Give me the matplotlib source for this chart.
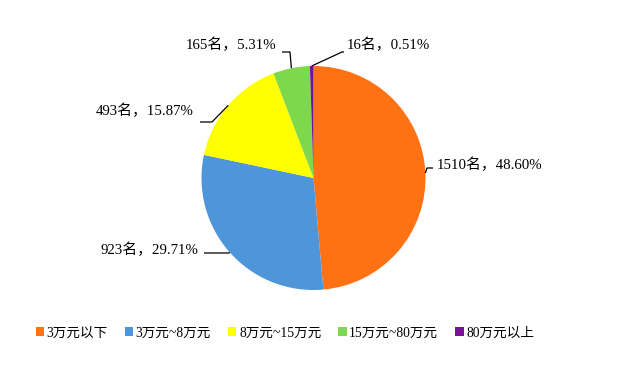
import numpy as np
import matplotlib
matplotlib.use("Agg")
import matplotlib.pyplot as plt

plt.rcParams['font.family'] = ['Liberation Serif', 'Noto Sans CJK SC']

categories = ["3万元以下", "3万元~8万元", "8万元~15万元", "15万元~80万元", "80万元以上"]
counts = [1510, 923, 493, 165, 16]
percents = [48.60, 29.71, 15.87, 5.31, 0.51]
colors = ["#FF7214", "#4F95DA", "#FFFF00", "#7ED84C", "#7A1099"]

W, H = 624, 365
fig = plt.figure(figsize=(W / 100, H / 100), dpi=100)
ax = fig.add_axes([0, 0, 1, 1])

cx, cy, r = 313.5, H - 178, 112
wedges, _ = ax.pie(percents, colors=colors, startangle=90, counterclock=False,
                   center=(cx, cy), radius=r, frame=True,
                   wedgeprops=dict(linewidth=0))
ax.set_xlim(0, W)
ax.set_ylim(0, H)
ax.set_aspect('equal')
ax.axis('off')

# label layout: (elbow point, line end, text pos, ha) in pixel coords from top
layout = [
    ((427, 168), (433, 168), (437, 165), 'left'),
    ((229, 253), (204, 253), (198, 250), 'right'),
    ((212, 122), (200, 122), (194, 111), 'right'),
    ((290, 52), (282, 52), (276, 45), 'right'),
    ((342, 52), (344, 52), (347, 45), 'left'),
]
for w, n, p, (elb, end, tp, ha) in zip(wedges, counts, percents, layout):
    mid = np.deg2rad((w.theta1 + w.theta2) / 2)
    ex, ey = cx + r * np.cos(mid), cy + r * np.sin(mid)
    xs = [ex, elb[0], end[0]]
    ys = [ey, H - elb[1], H - end[1]]
    ax.plot(xs, ys, color='black', lw=0.9, solid_capstyle='butt')
    ax.text(tp[0], H - tp[1], f"{n}名，{p:.2f}%", ha=ha, va='center',
            fontsize=10.7, color='black')

leg = ax.legend(wedges, categories, loc='center', bbox_to_anchor=(285 / W, (H - 333) / H),
                ncol=5, frameon=False, fontsize=9.8, handlelength=0.6, handleheight=0.6,
                handletextpad=0.2, columnspacing=1.25, borderaxespad=0)

fig.savefig("out.png", dpi=100)
